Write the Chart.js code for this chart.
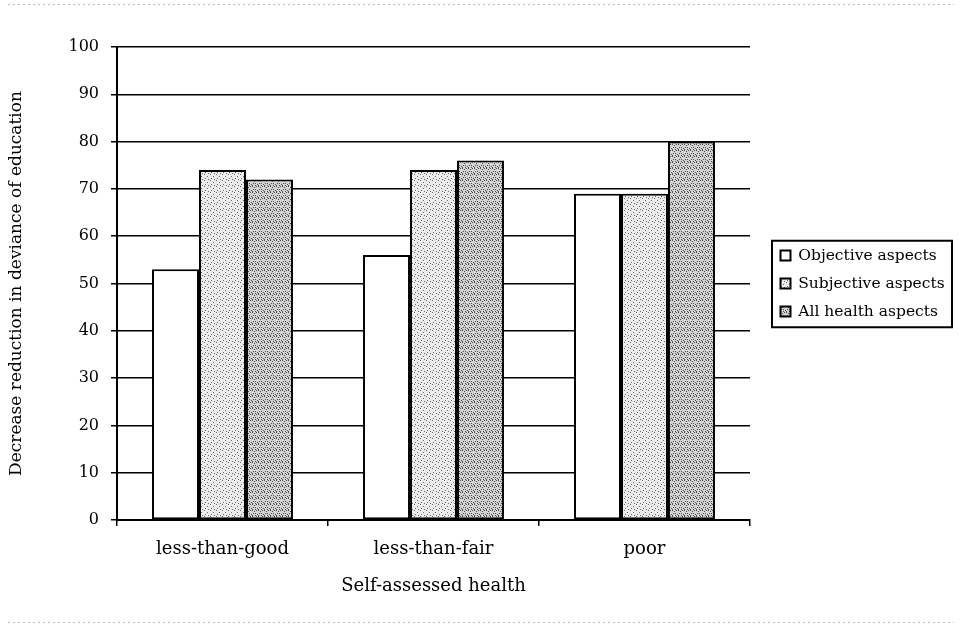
<!DOCTYPE html>
<html><head><meta charset="utf-8">
<script src="https://cdn.jsdelivr.net/npm/chart.js@4"></script>
<style>html,body{margin:0;padding:0;background:#fff}</style>
</head><body>
<canvas id="c" width="962" height="628"></canvas>
<script>
// Data
const categories = ['less-than-good', 'less-than-fair', 'poor'];
const seriesNames = ['Objective aspects', 'Subjective aspects', 'All health aspects'];
const objectiveValues = [53, 56, 69];
const subjectiveValues = [74, 74, 69];
const allHealthValues = [72, 76, 80];
const yTickMin = 0, yTickMax = 100, yTickStep = 10;

const FONT = 'DejaVu Serif';

// Stippled fills
function stipple(bg, dot, dots, size) {
  const c = document.createElement('canvas');
  c.width = size; c.height = size;
  const g = c.getContext('2d');
  g.fillStyle = bg; g.fillRect(0, 0, size, size);
  g.fillStyle = dot;
  dots.forEach(([x, y]) => g.fillRect(x, y, 1, 1));
  return g.createPattern(c, 'repeat');
}
const ctx = document.getElementById('c').getContext('2d');
const lightFill = stipple('#ebebeb', '#6a6a6a', [[0,0],[3,2],[1,4],[4,5]], 6);
const darkFill = stipple('#d2d2d2', '#505050', [[0,0],[2,1],[4,0],[1,3],[3,3],[5,4],[0,5],[3,5]], 6);

const legendFrame = {
  id: 'legendFrame',
  beforeInit(chart) {
    const fit = chart.legend.fit;
    chart.legend.fit = function () { fit.call(this); this.width = 212; };
  },
  afterLayout(chart) {
    // place the legend block beside the plot, centred on the plot height
    const lg = chart.legend, area = chart.chartArea;
    lg.left += 18;
    lg.right += 18;
    lg.top = area.top;
    lg.bottom = area.bottom;
    lg.height = area.bottom - area.top;
  },
  beforeDraw(chart) {
    const c = chart.ctx;
    c.save();
    c.fillStyle = '#fff';
    c.fillRect(0, 0, chart.width, chart.height);
    // faint dotted edges
    c.strokeStyle = '#bdbdbd';
    c.lineWidth = 1;
    c.setLineDash([2, 3]);
    c.beginPath();
    c.moveTo(8, 4.5); c.lineTo(954, 4.5);
    c.moveTo(8, 622.5); c.lineTo(954, 622.5);
    c.stroke();
    c.restore();
  },
  afterDraw(chart) {
    const lg = chart.legend;
    const hb = lg.legendHitBoxes;
    if (!hb || !hb.length) return;
    const c = chart.ctx;
    const top = hb[0].top - 7;
    const last = hb[hb.length - 1];
    const bottom = last.top + last.height + 8;
    c.save();
    c.strokeStyle = '#000';
    c.lineWidth = 2;
    c.strokeRect(lg.left + 4, top, 180, bottom - top);
    c.restore();
  }
};

new Chart(ctx, {
  type: 'bar',
  data: {
    labels: categories,
    datasets: [
      { label: seriesNames[0], data: objectiveValues, backgroundColor: '#ffffff' },
      { label: seriesNames[1], data: subjectiveValues, backgroundColor: lightFill },
      { label: seriesNames[2], data: allHealthValues, backgroundColor: darkFill }
    ]
  },
  options: {
    responsive: false,
    animation: false,
    devicePixelRatio: 1,
    layout: { padding: { top: 47, right: 0, bottom: 22, left: 0 } },
    datasets: {
      bar: {
        categoryPercentage: 0.668,
        barPercentage: 1,
        borderColor: '#000',
        borderWidth: 2,
        borderSkipped: false
      }
    },
    plugins: {
      tooltip: { enabled: false },
      legend: {
        position: 'right',
        align: 'center',
        labels: {
          color: '#000',
          font: { family: FONT, size: 15.5 },
          boxWidth: 10,
          boxHeight: 10,
          padding: 12.5
        }
      }
    },
    scales: {
      x: {
        afterFit(s) { s.height = 86; },
        grid: { drawOnChartArea: false, drawTicks: true, tickLength: 6, color: '#000', lineWidth: 1.5 },
        border: { display: true, color: '#000', width: 2 },
        ticks: { color: '#000', font: { family: FONT, size: 18 }, padding: 13 },
        title: { display: true, text: 'Self-assessed health', color: '#000',
                 font: { family: FONT, size: 18 }, padding: { top: 0, bottom: 9 } }
      },
      y: {
        min: yTickMin, max: yTickMax,
        afterFit(s) { s.width = 117; },
        grid: { color: '#000', lineWidth: 1.5, tickLength: 6, drawTicks: true },
        border: { display: true, color: '#000', width: 2 },
        ticks: { stepSize: yTickStep, color: '#000', font: { family: FONT, size: 16 }, padding: 12 },
        title: { display: true, text: 'Decrease reduction in deviance of education', color: '#000',
                 font: { family: FONT, size: 17 }, padding: { top: 6, bottom: 0 } }
      }
    }
  },
  plugins: [legendFrame]
});
</script>
</body></html>
